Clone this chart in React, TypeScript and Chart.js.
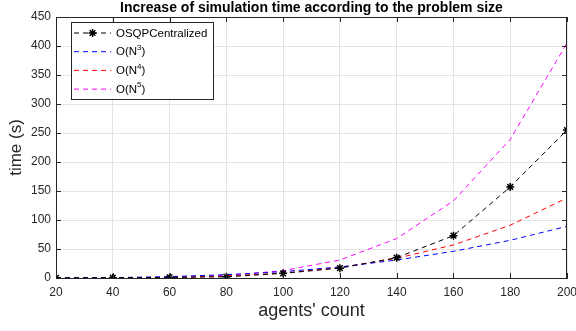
import React, { useEffect, useRef } from "react";
import { Chart, registerables } from "chart.js";

Chart.register(...registerables);

const agents = [20, 40, 60, 80, 100, 120, 140, 160, 180, 200];
const osqpTimes = [0.2, 0.5, 1.0, 2.0, 8.0, 17, 35, 73, 157, 255];
const orderN3 = [0.1, 0.7, 2.4, 5.7, 11, 19, 31, 46, 65, 89];
const orderN4 = [0.01, 0.2, 1.1, 3.5, 8.6, 18, 34, 57, 91, 138];
const orderN5 = [0.0, 0.1, 1.0, 4.1, 12.7, 31, 68, 133, 239, 405];
const yTicks = [0, 50, 100, 150, 200, 250, 300, 350, 400, 450];

const titleText = "Increase of simulation time according to the problem size";
const legendEntries = [
  { base: "OSQPCentralized", sup: "" },
  { base: "O(N", sup: "3" },
  { base: "O(N", sup: "4" },
  { base: "O(N", sup: "5" },
];

const AXIS = "#262626";
const FONT = "'Liberation Sans', Arial, Helvetica, sans-serif";

const decorPlugin = {
  id: "decor",
  afterDraw(chart: any) {
    const { ctx, chartArea: a, scales } = chart;
    ctx.save();
    // box
    ctx.strokeStyle = AXIS;
    ctx.lineWidth = 1;
    ctx.strokeRect(Math.round(a.left) + 0.5, Math.round(a.top) + 0.5, Math.round(a.right - a.left) - 1, Math.round(a.bottom - a.top));
    // inward ticks
    const tl = 5;
    ctx.beginPath();
    for (const v of agents) {
      const x = Math.round(scales.x.getPixelForValue(v)) + 0.5;
      ctx.moveTo(x, a.bottom);
      ctx.lineTo(x, a.bottom - tl);
      ctx.moveTo(x, a.top);
      ctx.lineTo(x, a.top + tl);
    }
    for (const v of yTicks) {
      const y = Math.round(scales.y.getPixelForValue(v)) + 0.5;
      ctx.moveTo(a.left, y);
      ctx.lineTo(a.left + tl, y);
      ctx.moveTo(a.right, y);
      ctx.lineTo(a.right - tl, y);
    }
    ctx.stroke();

    // title
    ctx.fillStyle = "#000";
    ctx.font = `bold 14px ${FONT}`;
    ctx.textAlign = "center";
    ctx.textBaseline = "middle";
    ctx.fillText(titleText, (a.left + a.right) / 2, 8);

    // legend
    const lx = a.left + 15, ly = a.top + 5, lw = 142, lh = 77;
    ctx.fillStyle = "#fff";
    ctx.fillRect(lx, ly, lw, lh);
    ctx.strokeStyle = AXIS;
    ctx.strokeRect(lx + 0.5, ly + 0.5, lw, lh);
    ctx.textAlign = "left";
    ctx.textBaseline = "middle";
    chart.data.datasets.forEach((ds: any, i: number) => {
      const cy = ly + 11 + i * 18.7;
      ctx.save();
      ctx.strokeStyle = ds.borderColor;
      ctx.lineWidth = 1;
      ctx.setLineDash(ds.borderDash || []);
      ctx.beginPath();
      ctx.moveTo(lx + 3, cy);
      ctx.lineTo(lx + 40, cy);
      ctx.stroke();
      ctx.restore();
      if (ds.pointRadius > 0) {
        ctx.save();
        ctx.strokeStyle = ds.borderColor;
        ctx.lineWidth = 1.5;
        const cx = lx + 21.5, r = 4;
        ctx.beginPath();
        ctx.moveTo(cx - r, cy); ctx.lineTo(cx + r, cy);
        ctx.moveTo(cx, cy - r); ctx.lineTo(cx, cy + r);
        const d = r * 0.7071;
        ctx.moveTo(cx - d, cy - d); ctx.lineTo(cx + d, cy + d);
        ctx.moveTo(cx - d, cy + d); ctx.lineTo(cx + d, cy - d);
        ctx.stroke();
        ctx.restore();
      }
      const e = legendEntries[i];
      ctx.fillStyle = "#000";
      ctx.font = `11.5px ${FONT}`;
      let tx = lx + 45;
      ctx.fillText(e.base, tx, cy + 0.5);
      if (e.sup) {
        tx += ctx.measureText(e.base).width;
        ctx.font = `8px ${FONT}`;
        ctx.fillText(e.sup, tx, cy - 4);
        tx += ctx.measureText(e.sup).width;
        ctx.font = `11.5px ${FONT}`;
        ctx.fillText(")", tx, cy + 0.5);
      }
    });
    ctx.restore();
  },
};

export default function App() {
  const ref = useRef<HTMLCanvasElement | null>(null);
  useEffect(() => {
    if (!ref.current) return;
    const mk = (label: string, data: number[], color: string, marker: boolean) => ({
      label,
      data: agents.map((x, i) => ({ x, y: data[i] })),
      borderColor: color,
      backgroundColor: color,
      borderWidth: 1,
      borderDash: [5, 4],
      pointStyle: "star" as const,
      pointRadius: marker ? 4 : 0,
      pointBorderWidth: 1.5,
      pointBorderColor: color,
      tension: 0,
      fill: false,
    });
    const chart = new Chart(ref.current, {
      type: "line",
      data: {
        datasets: [
          mk("OSQPCentralized", osqpTimes, "#000000", true),
          mk("O(N3)", orderN3, "#0000ff", false),
          mk("O(N4)", orderN4, "#ff0000", false),
          mk("O(N5)", orderN5, "#ff00ff", false),
        ],
      },
      options: {
        animation: false,
        responsive: false,
        devicePixelRatio: 1,
        layout: { padding: { top: 17, right: 9, left: 0, bottom: 0 } },
        plugins: { legend: { display: false }, title: { display: false }, tooltip: { enabled: false } },
        scales: {
          x: {
            type: "linear",
            min: 20,
            max: 200,
            afterFit: (s: any) => { s.height = 53; s.paddingLeft = 0; s.paddingRight = 0; },
            afterBuildTicks: (s: any) => { s.ticks = agents.map((v) => ({ value: v })); },
            grid: { color: "#e3e3e3", drawTicks: false, lineWidth: 1 },
            border: { color: AXIS, width: 1 },
            ticks: { color: AXIS, padding: 7, font: { family: FONT, size: 12 }, maxRotation: 0, autoSkip: false },
            title: { display: true, text: "agents' count", color: AXIS, font: { family: FONT, size: 18 }, padding: { top: 0, bottom: 9 } },
          },
          y: {
            type: "linear",
            min: 0,
            max: 450,
            afterFit: (s: any) => { s.width = 56; s.paddingTop = 0; s.paddingBottom = 0; },
            afterBuildTicks: (s: any) => { s.ticks = yTicks.map((v) => ({ value: v })); },
            grid: { color: "#e3e3e3", drawTicks: false, lineWidth: 1 },
            border: { color: AXIS, width: 1 },
            ticks: { color: AXIS, padding: 5, font: { family: FONT, size: 12 }, autoSkip: false },
            title: { display: true, text: "time (s)", color: AXIS, font: { family: FONT, size: 17 }, padding: { top: 6, bottom: 0 } },
          },
        },
      },
      plugins: [decorPlugin],
    });
    return () => chart.destroy();
  }, []);
  return (
    <div style={{ position: "absolute", left: 0, top: 0, width: 576, height: 331, background: "#fff" }}>
      <canvas ref={ref} width={576} height={331} style={{ display: "block", width: 576, height: 331 }} />
    </div>
  );
}
